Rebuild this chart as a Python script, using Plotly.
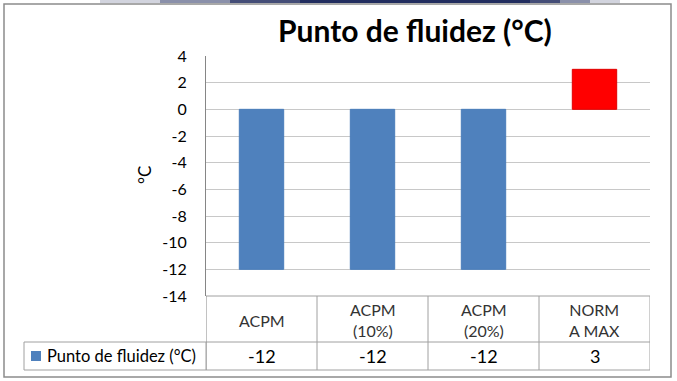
import plotly.graph_objects as go

categories = ["ACPM", "ACPM<br>(10%)", "ACPM<br>(20%)", "NORM<br>A MAX"]
values = [-12, -12, -12, 3]
value_labels = ["-12", "-12", "-12", "3"]
series_name = "Punto de fluidez (°C)"
title_text = "Punto de fluidez (°C)"
y_ticks = [4, 2, 0, -2, -4, -6, -8, -10, -12, -14]

W, H = 677, 381
L, R, T, B = 206, 650, 56, 296
PW, PH = R - L, B - T

def px(x):
    return (x - L) / PW

def py(y):
    return (B - y) / PH

FONT = "Lato"
BLUE = "#4F81BD"
RED = "#FF0000"
colors = [BLUE, BLUE, BLUE, RED]
line_colors = ["#4A7EBB", "#4A7EBB", "#4A7EBB", "#E00000"]
xpos = list(range(len(categories)))

fig = go.Figure()
fig.add_trace(go.Bar(
    x=xpos, y=values, width=0.4,
    marker=dict(color=colors, line=dict(color=line_colors, width=1)),
    name=series_name, showlegend=False,
))

shapes = []
TAB = "#A0A0A0"
for yy in [B, 342, 370]:
    shapes.append(dict(type="line", xref="paper", yref="paper",
                       x0=0, x1=1, y0=py(yy), y1=py(yy),
                       line=dict(color=TAB, width=1)))
for i in range(len(categories) + 1):
    shapes.append(dict(type="line", xref="x", yref="paper",
                       x0=i - 0.5, x1=i - 0.5, y0=py(B), y1=py(370),
                       line=dict(color=TAB if 0 < i else "#868686", width=1)))
shapes.append(dict(type="rect", xref="paper", yref="paper",
                   x0=px(24), x1=px(206), y0=py(370), y1=py(342),
                   line=dict(color=TAB, width=1)))
shapes.append(dict(type="rect", xref="paper", yref="paper",
                   x0=px(31), x1=px(41), y0=py(361), y1=py(351),
                   fillcolor=BLUE, line=dict(color=BLUE, width=0)))
shapes.append(dict(type="rect", xref="paper", yref="paper",
                   x0=px(4), x1=px(671), y0=py(377), y1=py(4),
                   line=dict(color="#8C8C8C", width=1.5)))
for x0, x1, op in [(100, 620, 0.2), (160, 590, 0.4), (230, 560, 0.65), (300, 530, 0.9)]:
    shapes.append(dict(type="rect", xref="paper", yref="paper",
                       x0=px(x0), x1=px(x1), y0=py(3), y1=py(0),
                       fillcolor="#1F2A5C", opacity=op, line=dict(width=0)))

annotations = []
annotations.append(dict(text="<b>" + title_text + "</b>", xref="paper", yref="paper",
                        x=px(415), y=py(30), showarrow=False,
                        font=dict(family=FONT, size=30, color="#000000"),
                        xanchor="center", yanchor="middle"))
annotations.append(dict(text="°C", xref="paper", yref="paper",
                        x=px(144), y=py(175), showarrow=False, textangle=-90,
                        font=dict(family=FONT, size=17, color="#000000"),
                        xanchor="center", yanchor="middle"))
for i, c in enumerate(categories):
    annotations.append(dict(text=c, xref="x", yref="paper", x=i, y=py(320),
                            showarrow=False, xanchor="center", yanchor="middle",
                            font=dict(family=FONT, size=16, color="#333333")))
for i, v in enumerate(value_labels):
    annotations.append(dict(text=v, xref="x", yref="paper", x=i, y=py(356),
                            showarrow=False, xanchor="center", yanchor="middle",
                            font=dict(family=FONT, size=18, color="#000000")))
annotations.append(dict(text=series_name, xref="paper", yref="paper",
                        x=px(45), y=py(356), showarrow=False,
                        xanchor="left", yanchor="middle",
                        font=dict(family=FONT, size=16.5, color="#000000")))

fig.update_layout(
    width=W, height=H,
    margin=dict(l=L, r=W - R, t=T, b=H - B, pad=0),
    paper_bgcolor="white", plot_bgcolor="white",
    shapes=shapes, annotations=annotations,
    xaxis=dict(range=[-0.5, len(categories) - 0.5], showticklabels=False,
               showgrid=False, zeroline=False, showline=False, fixedrange=True),
    yaxis=dict(range=[-14, 4], tickvals=y_ticks,
               ticktext=[str(t) for t in y_ticks],
               showgrid=True, gridcolor="#C8C8C8", gridwidth=1,
               zeroline=False, showline=True, linecolor="#868686", linewidth=1,
               ticks="", ticklabelstandoff=15,
               tickfont=dict(family=FONT, size=16, color="#000000")),
    showlegend=False,
)

fig.write_html("out.html")
